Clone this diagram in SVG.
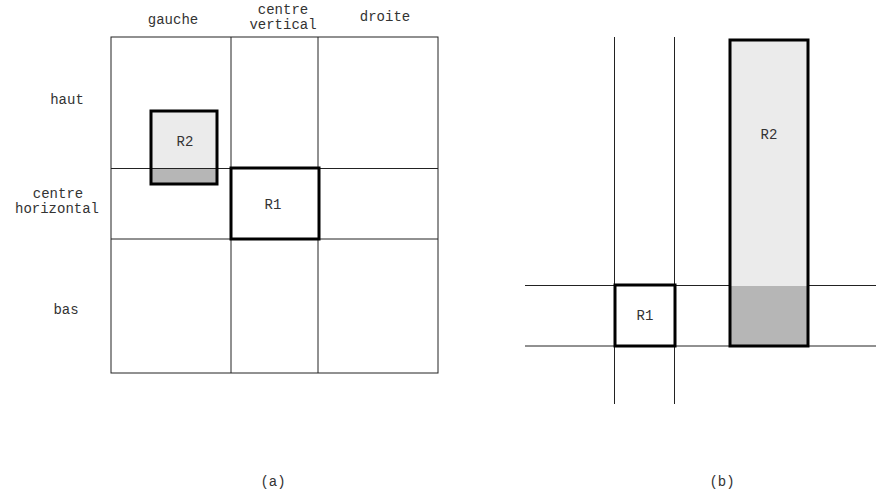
<svg xmlns="http://www.w3.org/2000/svg" width="876" height="492" viewBox="0 0 876 492">
<style>
text{font-family:"Liberation Mono","Courier New",monospace;font-size:14px;fill:#333;text-anchor:middle}
.grid{stroke:#222;stroke-width:1;fill:none}
.box{stroke:#000;stroke-width:3;fill:none}
.light{fill:#ebebeb}
.dark{fill:#b6b6b6}
</style>
<rect width="876" height="492" fill="#fff"/>
<g id="grid-a">
<rect class="grid" x="111" y="37" width="327" height="336"/>
<line class="grid" x1="231" y1="37" x2="231" y2="373"/>
<line class="grid" x1="318" y1="37" x2="318" y2="373"/>
<line class="grid" x1="111" y1="168.5" x2="438" y2="168.5"/>
<line class="grid" x1="111" y1="239" x2="438" y2="239"/>
</g>
<g id="labels-a">
<text x="173" y="24">gauche</text>
<text x="283" y="14">centre</text>
<text x="283" y="29">vertical</text>
<text x="385" y="21">droite</text>
<text x="67" y="104">haut</text>
<text x="58" y="198">centre</text>
<text x="57" y="213">horizontal</text>
<text x="66" y="314">bas</text>
<text x="273" y="486">(a)</text>
</g>
<g id="R2a">
<rect class="light" x="151" y="111" width="66" height="58"/>
<rect class="dark" x="151" y="169" width="66" height="15"/>
<line class="grid" x1="151" y1="168.5" x2="217" y2="168.5"/>
<rect class="box" x="151" y="111" width="66" height="73"/>
<text x="185" y="146">R2</text>
</g>
<g id="R1a">
<rect fill="#fff" x="231" y="168" width="88" height="71"/>
<rect class="box" x="231" y="168" width="88" height="71"/>
<text x="273" y="209">R1</text>
</g>
<g id="grid-b">
<line class="grid" x1="614.5" y1="37" x2="614.5" y2="404"/>
<line class="grid" x1="674.5" y1="37" x2="674.5" y2="404"/>
<line class="grid" x1="525" y1="285.5" x2="876" y2="285.5"/>
<line class="grid" x1="525" y1="346" x2="876" y2="346"/>
<text x="722" y="486">(b)</text>
</g>
<g id="R1b">
<rect fill="#fff" x="615" y="285" width="60" height="61"/>
<rect class="box" x="615" y="285" width="60" height="61"/>
<text x="645" y="320">R1</text>
</g>
<g id="R2b">
<rect class="light" x="730" y="40" width="78" height="246"/>
<rect class="dark" x="730" y="286" width="78" height="60"/>
<rect class="box" x="730" y="40" width="78" height="306"/>
<text x="769" y="139">R2</text>
</g>
</svg>
